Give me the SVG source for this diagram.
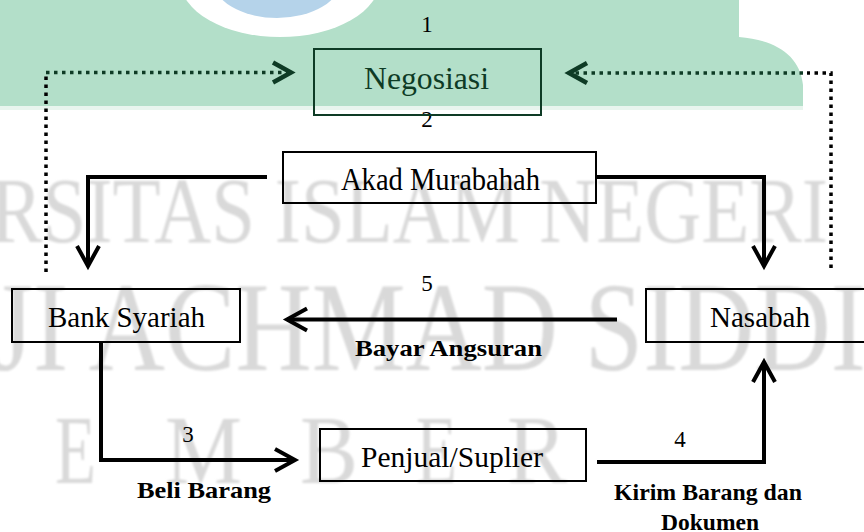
<svg xmlns="http://www.w3.org/2000/svg" width="864" height="532" viewBox="0 0 864 532">
<style>
.wm{font-family:"Liberation Serif","Times New Roman",serif;fill:#d9d9d9}
.box{fill:none;stroke:#000;stroke-width:2}
.lbl{font-family:"Liberation Serif","Times New Roman",serif;font-size:29px;fill:#000;text-anchor:start}
.num{font-family:"Liberation Serif","Times New Roman",serif;font-size:23px;fill:#000;text-anchor:middle}
.bold{font-family:"Liberation Serif","Times New Roman",serif;font-size:23px;font-weight:bold;fill:#000}
.conn{fill:none;stroke:#000;stroke-width:4}
.dot{fill:none;stroke-width:3.5;stroke-dasharray:3.5 4.5}
</style>
<defs>
<filter id="soft" x="-5%" y="-5%" width="110%" height="110%">
<feGaussianBlur stdDeviation="0.9"/>
</filter>
<marker id="ah" markerUnits="userSpaceOnUse" viewBox="-24 -14 28 28" refX="0" refY="0" markerWidth="28" markerHeight="28" orient="auto" overflow="visible">
<path d="M-20,-11 L0,0 L-20,11" fill="none" stroke="#000" stroke-width="4"/>
</marker>
<marker id="ahg" markerUnits="userSpaceOnUse" viewBox="-24 -14 28 28" refX="0" refY="0" markerWidth="28" markerHeight="28" orient="auto" overflow="visible">
<path d="M-18,-10 L0,0 L-18,10" fill="none" stroke="#0e3b25" stroke-width="4.5"/>
</marker>
</defs>
<rect width="864" height="532" fill="#fff"/>
<g id="watermark">
<rect x="0" y="106" width="803" height="4" fill="#e8f5ee"/>
<path d="M0,0 H739 V37 C775,40 800,55 803,85 V106 H0 Z" fill="#b3dfc9"/>
<ellipse cx="280" cy="-20" rx="100" ry="57" fill="#fff"/>
<ellipse cx="277" cy="-20" rx="64" ry="38" fill="#b5d3ea"/>
<g filter="url(#soft)">
<text class="wm" x="-10" y="242" font-size="94" textLength="838" lengthAdjust="spacingAndGlyphs">RSITAS ISLAM NEGERI</text>
<text class="wm" x="-8" y="370" font-size="126" textLength="874" lengthAdjust="spacingAndGlyphs">JI ACHMAD SIDDI</text>
<text class="wm" x="55" y="483" font-size="98" textLength="41" lengthAdjust="spacingAndGlyphs">E</text>
<text class="wm" x="165" y="483" font-size="98" textLength="77" lengthAdjust="spacingAndGlyphs">M</text>
<text class="wm" x="300" y="483" font-size="98" textLength="58" lengthAdjust="spacingAndGlyphs">B</text>
<text class="wm" x="416" y="483" font-size="98" textLength="41" lengthAdjust="spacingAndGlyphs">E</text>
<text class="wm" x="507" y="483" font-size="98" textLength="60" lengthAdjust="spacingAndGlyphs">R</text>
</g>
</g>
<g id="connectors">
<path class="dot" stroke="#0e3b25" d="M46,72.5 H291" marker-end="url(#ahg)"/>
<path class="dot" stroke="#000" d="M46,272 V76"/>
<path class="dot" stroke="#0e3b25" d="M803,73 H569" marker-end="url(#ahg)"/>
<path class="dot" stroke="#000" d="M831,268 V73 H807"/>
<path class="conn" d="M267,177 H88 V266" marker-end="url(#ah)"/>
<path class="conn" d="M597,177 H764 V266" marker-end="url(#ah)"/>
<path class="conn" d="M617,319.5 H287" marker-end="url(#ah)"/>
<path class="conn" d="M101,342 V460 H295" marker-end="url(#ah)"/>
<path class="conn" d="M597,462 H764 V362" marker-end="url(#ah)"/>
<text class="num" x="427" y="32">1</text>
<text class="num" x="427" y="127">2</text>
<text class="num" x="188" y="442">3</text>
<text class="num" x="680" y="447">4</text>
<text class="num" x="427" y="291">5</text>
<text class="bold" x="355" y="356" textLength="187" lengthAdjust="spacingAndGlyphs">Bayar Angsuran</text>
<text class="bold" x="137" y="498" textLength="134" lengthAdjust="spacingAndGlyphs">Beli Barang</text>
<text class="bold" x="614" y="500" textLength="188" lengthAdjust="spacingAndGlyphs">Kirim Barang dan</text>
<text class="bold" x="661" y="530" textLength="98" lengthAdjust="spacingAndGlyphs">Dokumen</text>
</g>
<g id="negosiasi">
<rect x="314" y="49" width="227" height="66" fill="none" stroke="#0e3b25" stroke-width="2"/>
<text class="lbl" x="364" y="89" style="fill:#0e3b25;font-size:32px" textLength="125" lengthAdjust="spacingAndGlyphs">Negosiasi</text>
</g>
<g id="akad">
<rect class="box" x="283" y="152" width="313" height="51"/>
<text class="lbl" x="341" y="190" style="font-size:32px" textLength="199" lengthAdjust="spacingAndGlyphs">Akad Murabahah</text>
</g>
<g id="bank">
<rect class="box" x="12" y="289" width="228" height="53"/>
<text class="lbl" x="48" y="327" textLength="157" lengthAdjust="spacingAndGlyphs">Bank Syariah</text>
</g>
<g id="nasabah">
<rect class="box" x="646" y="289" width="230" height="53"/>
<text class="lbl" x="710" y="327" textLength="100" lengthAdjust="spacingAndGlyphs">Nasabah</text>
</g>
<g id="penjual">
<rect class="box" x="320" y="429" width="266" height="52"/>
<text class="lbl" x="361" y="467" textLength="182" lengthAdjust="spacingAndGlyphs">Penjual/Suplier</text>
</g>
</svg>
